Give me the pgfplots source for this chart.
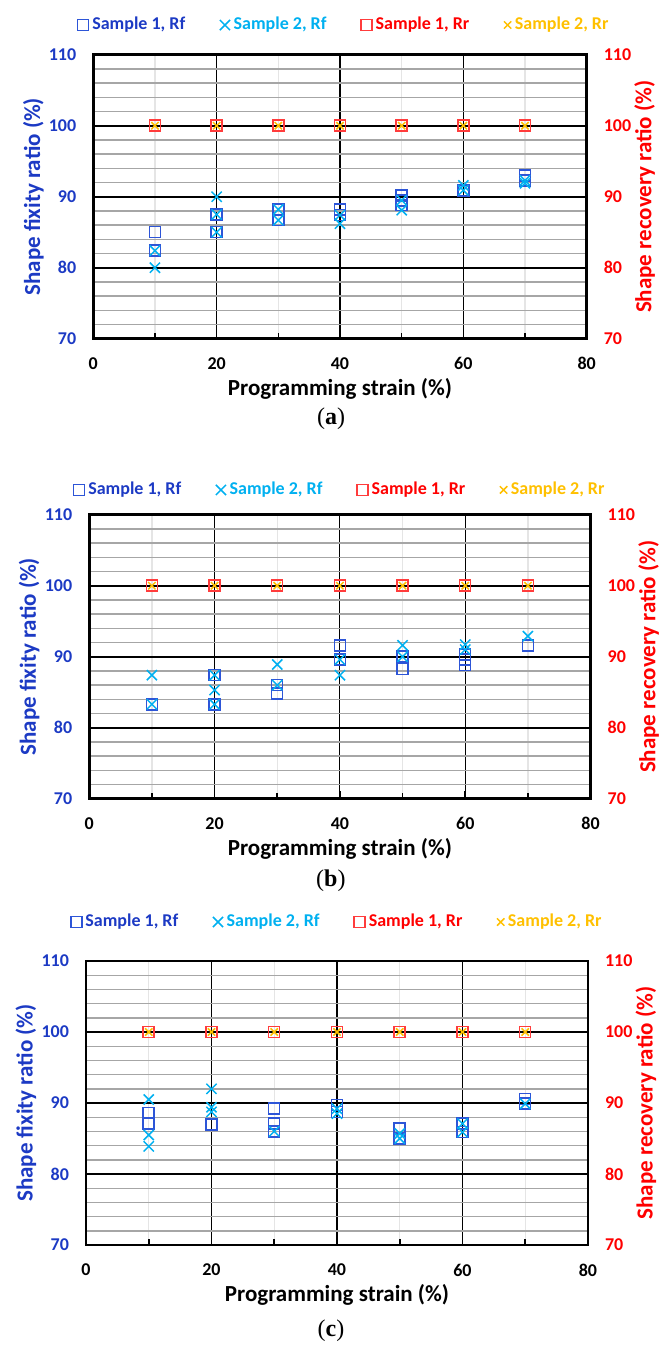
\documentclass[border=0pt]{standalone}
\usepackage{pgfplots}
\pgfplotsset{compat=1.18}
\usepackage{fontspec}
\setmainfont{Carlito}
\newfontfamily\capfont{Liberation Serif}
\definecolor{txtblue}{RGB}{28,58,196}
\definecolor{mkblue}{RGB}{45,85,215}
\definecolor{mkcyan}{RGB}{0,176,240}
\definecolor{txtred}{RGB}{255,0,0}
\definecolor{mkred}{RGB}{255,60,60}
\definecolor{mkgold}{RGB}{255,192,0}
\pgfplotsset{
  common/.style={scale only axis, xmin=0, xmax=80, ymin=70, ymax=110,
    xtick={0,20,...,80}, ytick={70,80,...,110}, xtick pos=bottom,
    axis line style={line width=1.4pt}, tick align=inside,
    tick style={black, line width=0.8pt},
    major tick length=4pt,
    /pgf/number format/assume math mode=true,
    ticklabel style={font=\bfseries\fontsize{9}{10}\selectfont},
  },
  bg/.style={common, minor x tick num=1, xmajorgrids, xminorgrids,
    minor tick length=3pt,
    major grid style={black, line width=0.6pt},
    minor grid style={black!10, line width=0.7pt},
    xticklabels={}, ytick pos=right, yticklabel pos=right,
    yticklabel style={text=txtred, anchor=west, xshift=5pt},
    ylabel={Shape recovery ratio (\%)},
    ylabel style={at={([xshift=29pt]axis description cs:1,0.5)}, anchor=center, text=txtred, font=\bfseries\fontsize{11.5}{13}\selectfont},
  },
  fg/.style={common, minor y tick num=4, ymajorgrids, yminorgrids,
    clip mode=individual,
    minor tick length=0pt,
    major grid style={black, line width=1pt},
    minor grid style={black!35, line width=0.7pt},
    ytick pos=left,
    yticklabel style={text=txtblue, anchor=east, xshift=-5pt},
    xticklabel style={anchor=center, yshift=-12.5pt},
    xlabel={Programming strain (\%)},
    xlabel style={at={([yshift=-25pt]axis description cs:0.5,0)}, anchor=center, font=\bfseries\fontsize{11.5}{13}\selectfont},
    ylabel={Shape fixity ratio (\%)},
    ylabel style={at={([xshift=-30pt]axis description cs:0,0.5)}, anchor=center, text=txtblue, font=\bfseries\fontsize{11.5}{13}\selectfont},
    legend columns=4,
    legend style={draw=none, fill=none, inner sep=0pt, font=\bfseries\fontsize{9}{10}\selectfont,
      nodes={inner sep=1.8pt},
      /tikz/every even column/.append style={column sep=15.5pt}},
    legend image code/.code={\draw[##1] plot coordinates {(0.1cm,0cm)};},
  },
  s1rf/.style={only marks, mark=square, mark size=2.75pt, mark options={draw=mkblue, line width=0.75pt}},
  s2rf/.style={only marks, mark=x, mark size=3.6pt, mark options={draw=mkcyan, line width=0.75pt}},
  s1rr/.style={only marks, mark=square, mark size=2.75pt, mark options={draw=mkred, line width=0.75pt}},
  s2rr/.style={only marks, mark=x, mark size=2.6pt, mark options={draw=mkgold, line width=0.75pt}},
}
\newcommand{\legs}{%
  \addlegendentry{\textcolor{txtblue}{Sample 1, Rf}}%
  \addlegendentry{\textcolor{mkcyan}{Sample 2, Rf}}%
  \addlegendentry{\textcolor{txtred}{Sample 1, Rr}}%
  \addlegendentry{\textcolor{mkgold}{Sample 2, Rr}}}
\begin{document}
\begin{tikzpicture}
\useasboundingbox (0,0) rectangle (331pt,-672.5pt);
% ---------------- (a)
\begin{axis}[bg, at={(46.65pt,-169.35pt)}, anchor=south west, width=246.7pt, height=142pt]
\addplot[draw=none] coordinates {(0,70)};
\end{axis}
\begin{axis}[fg, at={(46.65pt,-169.35pt)}, anchor=south west, width=246.7pt, height=142pt,
  legend style={at={(0.51,1)}, anchor=center, yshift=14.85pt}]
\addplot[s1rf] coordinates {(10,85) (10,82.4) (20,87.5) (20,85) (30,88.2) (30,86.7) (40,88.2) (40,87.4) (50,90.2) (50,89.5) (50,88.8) (60,90.9) (70,93.0) (70,92.3)};
\addplot[s2rf] coordinates {(10,82.4) (10,80) (20,90) (20,87.5) (20,85) (30,88.2) (30,86.7) (40,87.4) (40,86.2) (50,89.5) (50,88.1) (60,91.6) (60,90.9) (70,92.3) (70,91.9)};
\addplot[s1rr] coordinates {(10,100) (20,100) (30,100) (40,100) (50,100) (60,100) (70,100)};
\addplot[s2rr] coordinates {(10,100) (20,100) (30,100) (40,100) (50,100) (60,100) (70,100)};
\legs
\node[font=\capfont\fontsize{12}{14}\selectfont] at ([yshift=-40pt]axis description cs:0.482,0) {(\textbf{a})};
\end{axis}
% ---------------- (b)
\begin{axis}[bg, at={(44.6pt,-399.35pt)}, anchor=south west, width=250.7pt, height=142pt]
\addplot[draw=none] coordinates {(0,70)};
\end{axis}
\begin{axis}[fg, at={(44.6pt,-399.35pt)}, anchor=south west, width=250.7pt, height=142pt,
  legend style={at={(0.502,1)}, anchor=center, yshift=12.4pt}]
\addplot[s1rf] coordinates {(10,83.3) (20,87.4) (20,83.3) (30,86.0) (30,84.8) (40,91.6) (40,89.6) (50,90.0) (50,88.3) (60,90.3) (60,89.6) (60,88.8) (70,91.6)};
\addplot[s2rf] coordinates {(10,87.4) (10,83.3) (20,87.4) (20,85.3) (20,83.3) (30,88.9) (30,86.0) (40,89.6) (40,87.4) (50,91.6) (50,90.0) (60,91.7) (60,91.0) (70,92.9)};
\addplot[s1rr] coordinates {(10,100) (20,100) (30,100) (40,100) (50,100) (60,100) (70,100)};
\addplot[s2rr] coordinates {(10,100) (20,100) (30,100) (40,100) (50,100) (60,100) (70,100)};
\legs
\node[font=\capfont\fontsize{12}{14}\selectfont] at ([yshift=-40.8pt]axis description cs:0.482,0) {(\textbf{b})};
\end{axis}
% ---------------- (c)
\begin{axis}[bg, at={(43pt,-622.5pt)}, anchor=south west, width=251pt, height=142pt]
\addplot[draw=none] coordinates {(0,70)};
\end{axis}
\begin{axis}[fg, at={(43pt,-622.5pt)}, anchor=south west, width=251pt, height=142pt,
  legend style={at={(0.502,1)}, anchor=center, yshift=19.5pt}]
\addplot[s1rf] coordinates {(10,88.6) (10,87.1) (20,87.0) (30,89.2) (30,87.1) (30,86.0) (40,89.7) (40,88.7) (50,86.4) (50,85.0) (60,87.1) (60,85.9) (70,90.6) (70,89.9)};
\addplot[s2rf] coordinates {(10,90.5) (10,85.5) (10,83.9) (20,92.0) (20,89.4) (20,88.75) (30,86.0) (40,89.2) (40,88.5) (50,85.7) (50,85.0) (60,87.1) (60,85.9) (70,89.9)};
\addplot[s1rr] coordinates {(10,100) (20,100) (30,100) (40,100) (50,100) (60,100) (70,100)};
\addplot[s2rr] coordinates {(10,100) (20,100) (30,100) (40,100) (50,100) (60,100) (70,100)};
\legs
\node[font=\capfont\fontsize{12}{14}\selectfont] at ([yshift=-43pt]axis description cs:0.488,0) {(\textbf{c})};
\end{axis}
\end{tikzpicture}
\end{document}
